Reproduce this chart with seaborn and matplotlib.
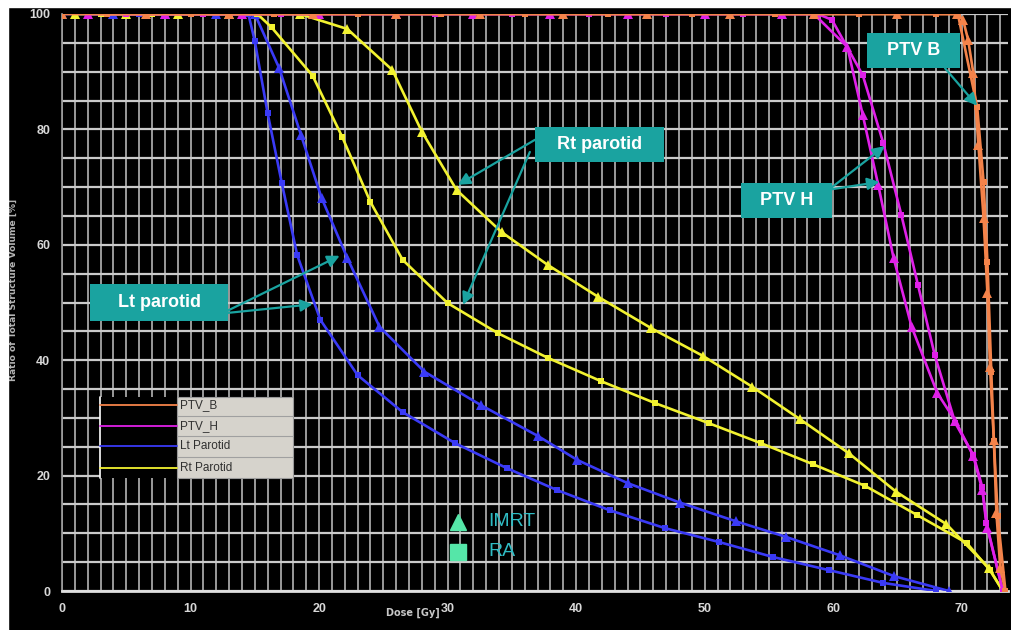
import pandas as pd
import seaborn as sns
import matplotlib.pyplot as plt
from matplotlib.patches import Rectangle
from matplotlib.ticker import MultipleLocator

# DVH curves (dose in Gy, volume in %)
lt_imrt_dose = [0, 4, 8, 12, 15.0, 16.9, 18.6, 20.2, 22.2, 24.7, 28.2, 32.6, 37.0, 40.1, 44.0, 48.1, 52.4, 56.3, 60.5, 64.7, 69.0]
lt_imrt_vol = [100, 100, 100, 100, 100, 90.6, 79.0, 68.1, 57.7, 45.8, 38.0, 32.2, 26.9, 22.7, 18.7, 15.3, 12.1, 9.4, 6.2, 2.6, 0]
lt_ra_dose = [2, 6, 10, 14.5, 15.0, 16.0, 17.1, 18.3, 20.1, 23.0, 26.5, 30.6, 34.6, 38.5, 42.6, 46.9, 51.1, 55.3, 59.7, 63.9, 68.0]
lt_ra_vol = [100, 100, 100, 100, 95.3, 82.8, 70.7, 58.2, 47.0, 37.4, 31.0, 25.6, 21.3, 17.5, 14.0, 10.9, 8.5, 5.9, 3.6, 1.4, 0]

rt_imrt_dose = [1, 5, 9, 13, 18.5, 22.2, 25.7, 28.0, 30.7, 34.2, 37.8, 41.7, 45.8, 49.9, 53.7, 57.4, 61.2, 64.9, 68.8, 72.1, 73.2]
rt_imrt_vol = [100, 100, 100, 100, 100, 97.4, 90.3, 79.6, 69.5, 62.2, 56.5, 51.0, 45.6, 40.7, 35.4, 29.8, 23.9, 17.2, 11.6, 4.0, 0]
rt_ra_dose = [3, 7, 11, 15.2, 16.3, 19.5, 21.8, 24.0, 26.5, 30.0, 33.9, 37.8, 41.9, 46.1, 50.3, 54.4, 58.4, 62.5, 66.5, 70.4, 72.2, 73.2]
rt_ra_vol = [100, 100, 100, 100, 97.7, 89.3, 78.7, 67.4, 57.4, 49.9, 44.7, 40.4, 36.4, 32.6, 29.1, 25.6, 22.0, 18.2, 13.2, 8.3, 3.6, 0]

ptvh_imrt_dose = [2, 8, 14, 20, 26, 32, 38, 44, 50, 56, 58.5, 61.1, 62.3, 63.5, 64.7, 66.1, 68.1, 69.5, 70.9, 71.6, 72.0, 73.2]
ptvh_imrt_vol = [100, 100, 100, 100, 100, 100, 100, 100, 100, 100, 100, 94.3, 82.5, 70.4, 57.7, 45.8, 34.3, 29.5, 23.4, 17.5, 11.0, 0]
ptvh_ra_dose = [5, 11, 17, 23, 29, 35, 41, 47, 53, 58.8, 59.9, 62.3, 63.9, 65.3, 66.6, 67.9, 69.5, 70.9, 71.6, 71.9, 73.2]
ptvh_ra_vol = [100, 100, 100, 100, 100, 100, 100, 100, 100, 100, 99.0, 89.4, 77.6, 65.2, 53.0, 40.9, 29.1, 23.6, 18.0, 11.8, 0]

ptvb_imrt_dose = [0, 6.5, 13, 19.5, 26, 32.5, 39, 45.5, 52, 58.5, 65, 69.6, 70.1, 70.5, 70.9, 71.3, 71.7, 72.0, 72.2, 72.5, 72.7, 73.0, 73.4]
ptvb_imrt_vol = [100, 100, 100, 100, 100, 100, 100, 100, 100, 100, 100, 100, 99.0, 95.5, 89.8, 77.3, 64.6, 51.6, 38.8, 26.2, 13.5, 4.0, 0]
ptvb_ra_dose = [3.5, 10, 16.5, 23, 29.5, 36, 42.5, 49, 55.5, 62, 68, 69.7, 71.2, 71.7, 72.0, 72.3, 72.5, 72.8, 73.4]
ptvb_ra_vol = [100, 100, 100, 100, 100, 100, 100, 100, 100, 100, 100, 100, 83.9, 70.9, 57.0, 38.0, 26.0, 13.0, 0]

structures = ["Lt Parotid", "Rt Parotid", "PTV_H", "PTV_B"]
colors = {"PTV_B": "#f4834a", "PTV_H": "#e020e8", "Lt Parotid": "#3a3af6", "Rt Parotid": "#f2f230"}
plan_marker = {"IMRT": "^", "RA": "s"}
plan_msize = {"IMRT": 6.5, "RA": 4.6}

series = [
    ("Lt Parotid", "IMRT", lt_imrt_dose, lt_imrt_vol), ("Lt Parotid", "RA", lt_ra_dose, lt_ra_vol),
    ("Rt Parotid", "IMRT", rt_imrt_dose, rt_imrt_vol), ("Rt Parotid", "RA", rt_ra_dose, rt_ra_vol),
    ("PTV_H", "IMRT", ptvh_imrt_dose, ptvh_imrt_vol), ("PTV_H", "RA", ptvh_ra_dose, ptvh_ra_vol),
    ("PTV_B", "IMRT", ptvb_imrt_dose, ptvb_imrt_vol), ("PTV_B", "RA", ptvb_ra_dose, ptvb_ra_vol),
]
frames = [pd.DataFrame({"dose": d, "vol": v, "structure": s, "plan": p}) for s, p, d, v in series]
df = pd.concat(frames, ignore_index=True)

sns.set_theme(style="dark")
plt.rcParams["font.family"] = ["Liberation Sans", "DejaVu Sans"]

fig = plt.figure(figsize=(10.11, 6.3), dpi=100, facecolor="black")
ax = fig.add_axes([62 / 1011, 39 / 630, 946 / 1011, 577 / 630])
ax.set_facecolor("black")
# white border strips at top and left like the scanned figure
fig.add_artist(Rectangle((0, 1 - 7 / 630), 1, 7 / 630, color="white", transform=fig.transFigure, zorder=10))
fig.add_artist(Rectangle((0, 0), 8 / 1011, 1, color="white", transform=fig.transFigure, zorder=10))

# one call per curve so the PTV_B line ends up on top along the 100% plateau
for (s, p), grp in df.groupby(["structure", "plan"], sort=False):
    sns.lineplot(data=grp, x="dose", y="vol", color=colors[s], marker=plan_marker[p],
                 markersize=plan_msize[p], markeredgewidth=0, sort=False, estimator=None,
                 lw=1.9, legend=False, ax=ax, zorder=3)

ax.set_xlim(0, 73.6)
ax.set_ylim(0, 100)
ax.xaxis.set_major_locator(MultipleLocator(10))
ax.xaxis.set_minor_locator(MultipleLocator(1))
ax.yaxis.set_major_locator(MultipleLocator(20))
ax.yaxis.set_minor_locator(MultipleLocator(5))
ax.grid(True, which="both", axis="x", color="#c4c4c4", lw=1.1)
ax.grid(True, which="both", axis="y", color="#cacaca", lw=1.6)
ax.set_axisbelow(True)
for side in ["top", "right"]:
    ax.spines[side].set_visible(False)
ax.spines["left"].set_color("#9a9a9a")
ax.spines["bottom"].set_color("#e0e0e0")
ax.spines["bottom"].set_linewidth(2)
ax.tick_params(axis="both", which="major", colors="#d8d8d8", labelsize=9, length=5, width=1)
ax.tick_params(axis="both", which="minor", length=0)
for lab in ax.get_xticklabels() + ax.get_yticklabels():
    lab.set_fontweight("bold")
ax.set_xlabel("")
ax.set_ylabel("")
fig.text(413 / 1011, 1 - 613 / 630, "Dose [Gy]", color="#c8c8c8", fontsize=7, fontweight="bold",
         ha="center", va="center", family="DejaVu Sans")
fig.text(13 / 1011, 1 - 290 / 630, "Ratio of Total Structure Volume [%]", color="#b4b4b4", fontsize=6.6,
         fontweight="bold", rotation=90, ha="center", va="center", family="DejaVu Sans")

# in-plot legend box (black line panel + gray label panel)
ax.add_patch(Rectangle((2.96, 19.6), 5.99, 14.0, facecolor="black", edgecolor="none", zorder=4))
ax.plot([2.96, 2.96], [19.6, 33.6], color="white", lw=1.2, zorder=5)
ax.add_patch(Rectangle((8.95, 19.6), 9.03, 14.0, facecolor="#d6d3cc", edgecolor="#9a9a9a", lw=0.8, zorder=4))
rows_y = [32.2, 28.6, 25.1, 21.4]
for name, yy in zip(["PTV_B", "PTV_H", "Lt Parotid", "Rt Parotid"], rows_y):
    ax.plot([2.96, 8.95], [yy, yy], color=colors[name], lw=1.3, zorder=5)
    ax.text(9.2, yy, name, color="#303030", fontsize=8.5, va="center", ha="left",
            family=["Liberation Sans Narrow", "Liberation Sans"], zorder=6)
for yy in [30.4, 26.85, 23.25]:
    ax.plot([8.95, 17.98], [yy, yy], color="#a0a0a0", lw=0.8, zorder=5)

# teal callout labels with arrows
teal = "#1aa3a0"
callouts = [
    ("PTV B", (62.65, 90.6, 7.23, 6.1), [((68.7, 90.6), (71.2, 84.1))]),
    ("PTV H", (52.8, 64.6, 7.1, 6.1), [((59.8, 69.8), (64.0, 77.1)), ((59.8, 69.6), (63.6, 70.9))]),
    ("Rt parotid", (36.8, 74.4, 10.0, 6.0), [((36.8, 78.2), (30.8, 70.4)), ((36.4, 76.1), (31.2, 49.6))]),
    ("Lt parotid", (2.18, 46.8, 10.74, 6.4), [((12.9, 48.6), (21.6, 58.1)), ((12.9, 48.2), (19.5, 49.7))]),
]
for label, (bx, by, bw, bh), arrows in callouts:
    ax.add_patch(Rectangle((bx, by), bw, bh, facecolor=teal, edgecolor="none", zorder=7))
    ax.text(bx + bw / 2, by + bh / 2, label, color="white", fontsize=13, fontweight="bold",
            ha="center", va="center", zorder=8)
    for tail, head in arrows:
        ax.annotate("", xy=head, xytext=tail, zorder=7,
                    arrowprops=dict(arrowstyle="-|>", color=teal, lw=1.6, mutation_scale=18,
                                    shrinkA=0, shrinkB=0))

# plan key
ax.plot([30.8], [12.0], marker="^", color="#55e6a8", markersize=12, zorder=6)
ax.plot([30.8], [6.8], marker="s", color="#55e6a8", markersize=11, zorder=6)
ax.text(33.2, 12.0, "IMRT", color="#2fbcc4", fontsize=14, va="center", ha="left", zorder=6)
ax.text(33.2, 6.8, "RA", color="#2fbcc4", fontsize=14, va="center", ha="left", zorder=6)

fig.savefig("out.png", dpi=100, facecolor=fig.get_facecolor())
